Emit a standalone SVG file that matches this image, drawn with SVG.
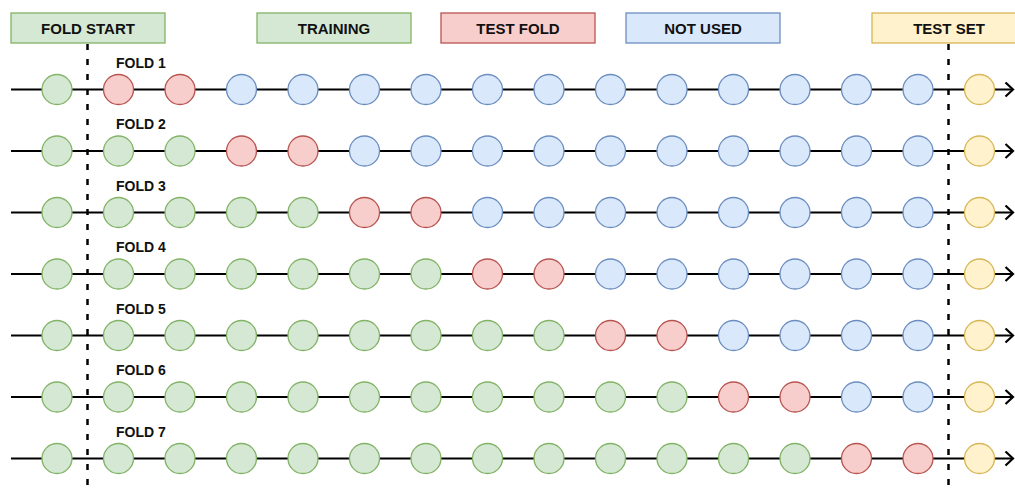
<svg xmlns="http://www.w3.org/2000/svg" width="1015" height="492" viewBox="0 0 1015 492">
  <style>
    .lbl { font-family: "Liberation Sans", Arial, Helvetica, sans-serif; font-weight: bold; fill: #111; }
    .hdr { font-size: 15px; text-anchor: middle; }
    .fold { font-size: 14px; }
    .g { fill: #d5e8d4; stroke: #82b366; stroke-width: 1.3; }
    .r { fill: #f8cecc; stroke: #b85450; stroke-width: 1.3; }
    .b { fill: #dae8fc; stroke: #6c8ebf; stroke-width: 1.3; }
    .y { fill: #fff2cc; stroke: #d6b656; stroke-width: 1.3; }
    .track { stroke: #000; stroke-width: 2.2; fill: none; marker-end: url(#open); }
    .split { stroke: #000; stroke-width: 2.5; stroke-dasharray: 6 9; fill: none; }
  </style>
  <defs>
    <marker id="open" markerUnits="userSpaceOnUse" markerWidth="12" markerHeight="16" refX="9" refY="8" orient="auto">
      <path d="M 1.5 1 L 9 8 L 1.5 15" fill="none" stroke="#000" stroke-width="2.2"/>
    </marker>
  </defs>
  <rect width="1015" height="492" fill="#fff"/>

  <!-- legend -->
  <g id="legend-fold-start"><rect class="g" x="11" y="13" width="154" height="30"/><text class="lbl hdr" x="88" y="33.5">FOLD START</text></g>
  <g id="legend-training"><rect class="g" x="257" y="13" width="154" height="30"/><text class="lbl hdr" x="334" y="33.5">TRAINING</text></g>
  <g id="legend-test-fold"><rect class="r" x="441" y="13" width="154" height="30"/><text class="lbl hdr" x="518" y="33.5">TEST FOLD</text></g>
  <g id="legend-not-used"><rect class="b" x="626" y="13" width="154" height="30"/><text class="lbl hdr" x="703" y="33.5">NOT USED</text></g>
  <g id="legend-test-set"><rect class="y" x="872" y="13" width="154" height="30"/><text class="lbl hdr" x="949" y="33.5">TEST SET</text></g>

  <!-- timelines -->
  <g id="connectors">
    <line class="track" x1="11" y1="89.5" x2="1013" y2="89.5"/>
    <line class="track" x1="11" y1="151" x2="1013" y2="151"/>
    <line class="track" x1="11" y1="212.5" x2="1013" y2="212.5"/>
    <line class="track" x1="11" y1="274" x2="1013" y2="274"/>
    <line class="track" x1="11" y1="335.5" x2="1013" y2="335.5"/>
    <line class="track" x1="11" y1="397" x2="1013" y2="397"/>
    <line class="track" x1="11" y1="458.5" x2="1013" y2="458.5"/>
  </g>

  <!-- split markers -->
  <g id="dividers">
    <line class="split" x1="87.5" y1="44" x2="87.5" y2="492"/>
    <line class="split" x1="948.5" y1="44" x2="948.5" y2="492"/>
  </g>

  <!-- fold labels -->
  <g id="label-fold-1"><text class="lbl fold" x="116" y="67.5">FOLD 1</text></g>
  <g id="label-fold-2"><text class="lbl fold" x="116" y="129">FOLD 2</text></g>
  <g id="label-fold-3"><text class="lbl fold" x="116" y="190.5">FOLD 3</text></g>
  <g id="label-fold-4"><text class="lbl fold" x="116" y="252">FOLD 4</text></g>
  <g id="label-fold-5"><text class="lbl fold" x="116" y="313.5">FOLD 5</text></g>
  <g id="label-fold-6"><text class="lbl fold" x="116" y="375">FOLD 6</text></g>
  <g id="label-fold-7"><text class="lbl fold" x="116" y="436.5">FOLD 7</text></g>

  <!-- fold 1 -->
  <g id="f1-n1"><circle class="g" cx="57" cy="89.5" r="15"/></g>
  <g id="f1-n2"><circle class="r" cx="118.5" cy="89.5" r="15"/></g>
  <g id="f1-n3"><circle class="r" cx="180" cy="89.5" r="15"/></g>
  <g id="f1-n4"><circle class="b" cx="241.5" cy="89.5" r="15"/></g>
  <g id="f1-n5"><circle class="b" cx="303" cy="89.5" r="15"/></g>
  <g id="f1-n6"><circle class="b" cx="364.5" cy="89.5" r="15"/></g>
  <g id="f1-n7"><circle class="b" cx="426" cy="89.5" r="15"/></g>
  <g id="f1-n8"><circle class="b" cx="487.5" cy="89.5" r="15"/></g>
  <g id="f1-n9"><circle class="b" cx="549" cy="89.5" r="15"/></g>
  <g id="f1-n10"><circle class="b" cx="610.5" cy="89.5" r="15"/></g>
  <g id="f1-n11"><circle class="b" cx="672" cy="89.5" r="15"/></g>
  <g id="f1-n12"><circle class="b" cx="733.5" cy="89.5" r="15"/></g>
  <g id="f1-n13"><circle class="b" cx="795" cy="89.5" r="15"/></g>
  <g id="f1-n14"><circle class="b" cx="856.5" cy="89.5" r="15"/></g>
  <g id="f1-n15"><circle class="b" cx="918" cy="89.5" r="15"/></g>
  <g id="f1-n16"><circle class="y" cx="979.5" cy="89.5" r="15"/></g>

  <!-- fold 2 -->
  <g id="f2-n1"><circle class="g" cx="57" cy="151" r="15"/></g>
  <g id="f2-n2"><circle class="g" cx="118.5" cy="151" r="15"/></g>
  <g id="f2-n3"><circle class="g" cx="180" cy="151" r="15"/></g>
  <g id="f2-n4"><circle class="r" cx="241.5" cy="151" r="15"/></g>
  <g id="f2-n5"><circle class="r" cx="303" cy="151" r="15"/></g>
  <g id="f2-n6"><circle class="b" cx="364.5" cy="151" r="15"/></g>
  <g id="f2-n7"><circle class="b" cx="426" cy="151" r="15"/></g>
  <g id="f2-n8"><circle class="b" cx="487.5" cy="151" r="15"/></g>
  <g id="f2-n9"><circle class="b" cx="549" cy="151" r="15"/></g>
  <g id="f2-n10"><circle class="b" cx="610.5" cy="151" r="15"/></g>
  <g id="f2-n11"><circle class="b" cx="672" cy="151" r="15"/></g>
  <g id="f2-n12"><circle class="b" cx="733.5" cy="151" r="15"/></g>
  <g id="f2-n13"><circle class="b" cx="795" cy="151" r="15"/></g>
  <g id="f2-n14"><circle class="b" cx="856.5" cy="151" r="15"/></g>
  <g id="f2-n15"><circle class="b" cx="918" cy="151" r="15"/></g>
  <g id="f2-n16"><circle class="y" cx="979.5" cy="151" r="15"/></g>

  <!-- fold 3 -->
  <g id="f3-n1"><circle class="g" cx="57" cy="212.5" r="15"/></g>
  <g id="f3-n2"><circle class="g" cx="118.5" cy="212.5" r="15"/></g>
  <g id="f3-n3"><circle class="g" cx="180" cy="212.5" r="15"/></g>
  <g id="f3-n4"><circle class="g" cx="241.5" cy="212.5" r="15"/></g>
  <g id="f3-n5"><circle class="g" cx="303" cy="212.5" r="15"/></g>
  <g id="f3-n6"><circle class="r" cx="364.5" cy="212.5" r="15"/></g>
  <g id="f3-n7"><circle class="r" cx="426" cy="212.5" r="15"/></g>
  <g id="f3-n8"><circle class="b" cx="487.5" cy="212.5" r="15"/></g>
  <g id="f3-n9"><circle class="b" cx="549" cy="212.5" r="15"/></g>
  <g id="f3-n10"><circle class="b" cx="610.5" cy="212.5" r="15"/></g>
  <g id="f3-n11"><circle class="b" cx="672" cy="212.5" r="15"/></g>
  <g id="f3-n12"><circle class="b" cx="733.5" cy="212.5" r="15"/></g>
  <g id="f3-n13"><circle class="b" cx="795" cy="212.5" r="15"/></g>
  <g id="f3-n14"><circle class="b" cx="856.5" cy="212.5" r="15"/></g>
  <g id="f3-n15"><circle class="b" cx="918" cy="212.5" r="15"/></g>
  <g id="f3-n16"><circle class="y" cx="979.5" cy="212.5" r="15"/></g>

  <!-- fold 4 -->
  <g id="f4-n1"><circle class="g" cx="57" cy="274" r="15"/></g>
  <g id="f4-n2"><circle class="g" cx="118.5" cy="274" r="15"/></g>
  <g id="f4-n3"><circle class="g" cx="180" cy="274" r="15"/></g>
  <g id="f4-n4"><circle class="g" cx="241.5" cy="274" r="15"/></g>
  <g id="f4-n5"><circle class="g" cx="303" cy="274" r="15"/></g>
  <g id="f4-n6"><circle class="g" cx="364.5" cy="274" r="15"/></g>
  <g id="f4-n7"><circle class="g" cx="426" cy="274" r="15"/></g>
  <g id="f4-n8"><circle class="r" cx="487.5" cy="274" r="15"/></g>
  <g id="f4-n9"><circle class="r" cx="549" cy="274" r="15"/></g>
  <g id="f4-n10"><circle class="b" cx="610.5" cy="274" r="15"/></g>
  <g id="f4-n11"><circle class="b" cx="672" cy="274" r="15"/></g>
  <g id="f4-n12"><circle class="b" cx="733.5" cy="274" r="15"/></g>
  <g id="f4-n13"><circle class="b" cx="795" cy="274" r="15"/></g>
  <g id="f4-n14"><circle class="b" cx="856.5" cy="274" r="15"/></g>
  <g id="f4-n15"><circle class="b" cx="918" cy="274" r="15"/></g>
  <g id="f4-n16"><circle class="y" cx="979.5" cy="274" r="15"/></g>

  <!-- fold 5 -->
  <g id="f5-n1"><circle class="g" cx="57" cy="335.5" r="15"/></g>
  <g id="f5-n2"><circle class="g" cx="118.5" cy="335.5" r="15"/></g>
  <g id="f5-n3"><circle class="g" cx="180" cy="335.5" r="15"/></g>
  <g id="f5-n4"><circle class="g" cx="241.5" cy="335.5" r="15"/></g>
  <g id="f5-n5"><circle class="g" cx="303" cy="335.5" r="15"/></g>
  <g id="f5-n6"><circle class="g" cx="364.5" cy="335.5" r="15"/></g>
  <g id="f5-n7"><circle class="g" cx="426" cy="335.5" r="15"/></g>
  <g id="f5-n8"><circle class="g" cx="487.5" cy="335.5" r="15"/></g>
  <g id="f5-n9"><circle class="g" cx="549" cy="335.5" r="15"/></g>
  <g id="f5-n10"><circle class="r" cx="610.5" cy="335.5" r="15"/></g>
  <g id="f5-n11"><circle class="r" cx="672" cy="335.5" r="15"/></g>
  <g id="f5-n12"><circle class="b" cx="733.5" cy="335.5" r="15"/></g>
  <g id="f5-n13"><circle class="b" cx="795" cy="335.5" r="15"/></g>
  <g id="f5-n14"><circle class="b" cx="856.5" cy="335.5" r="15"/></g>
  <g id="f5-n15"><circle class="b" cx="918" cy="335.5" r="15"/></g>
  <g id="f5-n16"><circle class="y" cx="979.5" cy="335.5" r="15"/></g>

  <!-- fold 6 -->
  <g id="f6-n1"><circle class="g" cx="57" cy="397" r="15"/></g>
  <g id="f6-n2"><circle class="g" cx="118.5" cy="397" r="15"/></g>
  <g id="f6-n3"><circle class="g" cx="180" cy="397" r="15"/></g>
  <g id="f6-n4"><circle class="g" cx="241.5" cy="397" r="15"/></g>
  <g id="f6-n5"><circle class="g" cx="303" cy="397" r="15"/></g>
  <g id="f6-n6"><circle class="g" cx="364.5" cy="397" r="15"/></g>
  <g id="f6-n7"><circle class="g" cx="426" cy="397" r="15"/></g>
  <g id="f6-n8"><circle class="g" cx="487.5" cy="397" r="15"/></g>
  <g id="f6-n9"><circle class="g" cx="549" cy="397" r="15"/></g>
  <g id="f6-n10"><circle class="g" cx="610.5" cy="397" r="15"/></g>
  <g id="f6-n11"><circle class="g" cx="672" cy="397" r="15"/></g>
  <g id="f6-n12"><circle class="r" cx="733.5" cy="397" r="15"/></g>
  <g id="f6-n13"><circle class="r" cx="795" cy="397" r="15"/></g>
  <g id="f6-n14"><circle class="b" cx="856.5" cy="397" r="15"/></g>
  <g id="f6-n15"><circle class="b" cx="918" cy="397" r="15"/></g>
  <g id="f6-n16"><circle class="y" cx="979.5" cy="397" r="15"/></g>

  <!-- fold 7 -->
  <g id="f7-n1"><circle class="g" cx="57" cy="458.5" r="15"/></g>
  <g id="f7-n2"><circle class="g" cx="118.5" cy="458.5" r="15"/></g>
  <g id="f7-n3"><circle class="g" cx="180" cy="458.5" r="15"/></g>
  <g id="f7-n4"><circle class="g" cx="241.5" cy="458.5" r="15"/></g>
  <g id="f7-n5"><circle class="g" cx="303" cy="458.5" r="15"/></g>
  <g id="f7-n6"><circle class="g" cx="364.5" cy="458.5" r="15"/></g>
  <g id="f7-n7"><circle class="g" cx="426" cy="458.5" r="15"/></g>
  <g id="f7-n8"><circle class="g" cx="487.5" cy="458.5" r="15"/></g>
  <g id="f7-n9"><circle class="g" cx="549" cy="458.5" r="15"/></g>
  <g id="f7-n10"><circle class="g" cx="610.5" cy="458.5" r="15"/></g>
  <g id="f7-n11"><circle class="g" cx="672" cy="458.5" r="15"/></g>
  <g id="f7-n12"><circle class="g" cx="733.5" cy="458.5" r="15"/></g>
  <g id="f7-n13"><circle class="g" cx="795" cy="458.5" r="15"/></g>
  <g id="f7-n14"><circle class="r" cx="856.5" cy="458.5" r="15"/></g>
  <g id="f7-n15"><circle class="r" cx="918" cy="458.5" r="15"/></g>
  <g id="f7-n16"><circle class="y" cx="979.5" cy="458.5" r="15"/></g>
</svg>
